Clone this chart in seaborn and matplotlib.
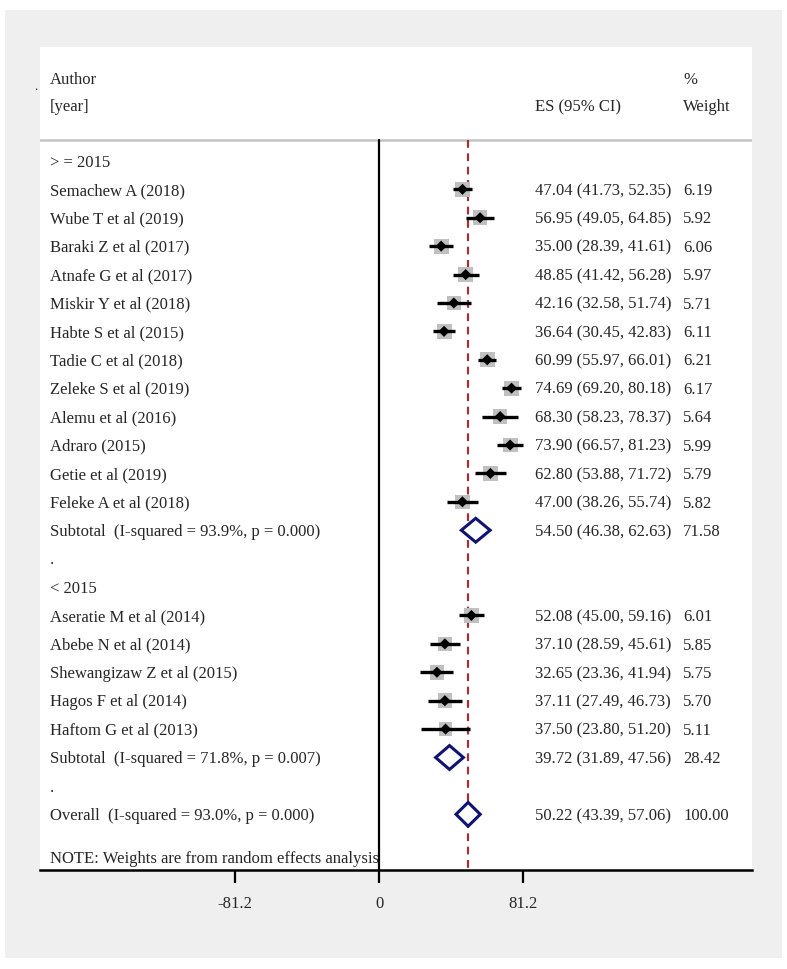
import matplotlib
matplotlib.use("Agg")
import matplotlib.pyplot as plt
import seaborn as sns
import pandas as pd
import numpy as np
from matplotlib.patches import Rectangle
from matplotlib.transforms import blended_transform_factory

sns.set_style("white")
plt.rcParams['font.family'] = ['Liberation Serif', 'DejaVu Serif']

# ---------------- data ----------------
group1_names = ["Semachew A (2018)", "Wube T et al (2019)", "Baraki Z et al (2017)",
                "Atnafe G et al (2017)", "Miskir Y et al (2018)", "Habte S et al (2015)",
                "Tadie C et al (2018)", "Zeleke S et al (2019)", "Alemu et al (2016)",
                "Adraro (2015)", "Getie et al (2019)", "Feleke A et al (2018)"]
group1_es = [47.04, 56.95, 35.00, 48.85, 42.16, 36.64, 60.99, 74.69, 68.30, 73.90, 62.80, 47.00]
group1_lo = [41.73, 49.05, 28.39, 41.42, 32.58, 30.45, 55.97, 69.20, 58.23, 66.57, 53.88, 38.26]
group1_hi = [52.35, 64.85, 41.61, 56.28, 51.74, 42.83, 66.01, 80.18, 78.37, 81.23, 71.72, 55.74]
group1_w = [6.19, 5.92, 6.06, 5.97, 5.71, 6.11, 6.21, 6.17, 5.64, 5.99, 5.79, 5.82]

group2_names = ["Aseratie M et al (2014)", "Abebe N et al (2014)", "Shewangizaw Z et al (2015)",
                "Hagos F et al (2014)", "Haftom G et al (2013)"]
group2_es = [52.08, 37.10, 32.65, 37.11, 37.50]
group2_lo = [45.00, 28.59, 23.36, 27.49, 23.80]
group2_hi = [59.16, 45.61, 41.94, 46.73, 51.20]
group2_w = [6.01, 5.85, 5.75, 5.70, 5.11]

group_titles = ["> = 2015", "< 2015"]
pooled_labels = ["Subtotal  (I-squared = 93.9%, p = 0.000)",
                 "Subtotal  (I-squared = 71.8%, p = 0.007)",
                 "Overall  (I-squared = 93.0%, p = 0.000)"]
pooled_es = [54.50, 39.72, 50.22]
pooled_lo = [46.38, 31.89, 43.39]
pooled_hi = [62.63, 47.56, 57.06]
pooled_w = [71.58, 28.42, 100.00]

tick_values = [-81.2, 0, 81.2]
tick_labels = ["-81.2", "0", "81.2"]
note_text = "NOTE: Weights are from random effects analysis"

# ---------------- layout rows ----------------
rows = []  # (kind, label, es, lo, hi, w)
rows.append(("title", group_titles[0], None, None, None, None))
for n, e, l, h, w in zip(group1_names, group1_es, group1_lo, group1_hi, group1_w):
    rows.append(("study", n, e, l, h, w))
rows.append(("pooled", pooled_labels[0], pooled_es[0], pooled_lo[0], pooled_hi[0], pooled_w[0]))
rows.append(("title", ".", None, None, None, None))
rows.append(("title", group_titles[1], None, None, None, None))
for n, e, l, h, w in zip(group2_names, group2_es, group2_lo, group2_hi, group2_w):
    rows.append(("study", n, e, l, h, w))
rows.append(("pooled", pooled_labels[1], pooled_es[1], pooled_lo[1], pooled_hi[1], pooled_w[1]))
rows.append(("title", ".", None, None, None, None))
rows.append(("pooled", pooled_labels[2], pooled_es[2], pooled_lo[2], pooled_hi[2], pooled_w[2]))

df = pd.DataFrame(rows, columns=["kind", "label", "es", "lo", "hi", "w"])
df["row"] = np.arange(len(df))

W, H = 787, 969
fig = plt.figure(figsize=(W / 100, H / 100), dpi=100)
fig.patch.set_facecolor("white")
fig.patches.append(Rectangle((5 / W, 1 - 958 / H), 777 / W, 948 / H,
                             transform=fig.transFigure, facecolor="#efefef",
                             edgecolor="none", zorder=-10))

ax = fig.add_axes([40 / W, 1 - 870 / H, 712 / W, 823 / H])
ax.set_facecolor("white")
ax.set_xlim(-191.2, 210.3)
ax.set_ylim(24.96, -4.01)

FS = 12
BOFF = 0.2  # baseline below row centre (row units)
tr = blended_transform_factory(ax.transAxes, ax.transData)
x_lab, x_es, x_w = 10 / 712, 495 / 712, 643 / 712


def put(x, y, s):
    ax.text(x, y + BOFF, s, transform=tr, fontsize=FS, va="baseline", ha="left")


# header
put(x_lab, -2.92, "Author")
put(x_lab, -1.94, "[year]")
put(x_es, -1.94, "ES (95% CI)")
put(x_w, -2.92, "%")
put(x_w, -1.94, "Weight")
ax.axhline(-0.74, color="#c4c4c4", lw=1.8, zorder=1)

# reference lines
ax.plot([0, 0], [-0.74, 24.96], color="black", lw=1.6, zorder=2, clip_on=False)
overall = pooled_es[2]
ax.plot([overall, overall], [-0.74, 24.96], color="#a0303c", lw=1.6,
        ls=(0, (3.5, 2.5)), zorder=2)

# studies
st = df[df.kind == "study"]
ax.hlines(st["row"], st["lo"], st["hi"], color="black", lw=2.4, zorder=4)
sns.scatterplot(data=st, x="es", y="row", size="w", sizes=(5.11 * 19, 6.21 * 19),
                marker="s", color="#c0c0c0", edgecolor="none", legend=False, ax=ax, zorder=3)
sns.scatterplot(data=st, x="es", y="row", marker="D", s=32, color="black",
                edgecolor="none", legend=False, ax=ax, zorder=5)

# pooled diamonds
pl = df[df.kind == "pooled"]
for _, r in pl.iterrows():
    ax.fill([r.lo, r.es, r.hi, r.es, r.lo], [r.row, r.row - 0.42, r.row, r.row + 0.42, r.row],
            facecolor="white", edgecolor="#0f1470", lw=2.2, zorder=6)

# row text
for _, r in df.iterrows():
    put(x_lab, r.row, r.label)
    if r.kind in ("study", "pooled"):
        put(x_es, r.row, f"{r.es:.2f} ({r.lo:.2f}, {r.hi:.2f})")
        put(x_w, r.row, f"{r.w:.2f}")

put(x_lab, 24.5, note_text)

# axes styling
for s in ["top", "right", "left"]:
    ax.spines[s].set_visible(False)
ax.spines["bottom"].set_linewidth(1.8)
ax.spines["bottom"].set_color("black")
ax.set_yticks([])
ax.set_xticks(tick_values)
ax.set_xticklabels(tick_labels, fontsize=FS)
ax.tick_params(axis="x", bottom=True, direction="out", length=9, width=1.6,
               color="black", pad=10)
ax.set_xlabel("")
ax.set_ylabel("")

fig.text(36 / W, 1 - 87 / H, ".", fontsize=9, ha="center", va="center")

fig.savefig("out.png", dpi=100, facecolor="white")
